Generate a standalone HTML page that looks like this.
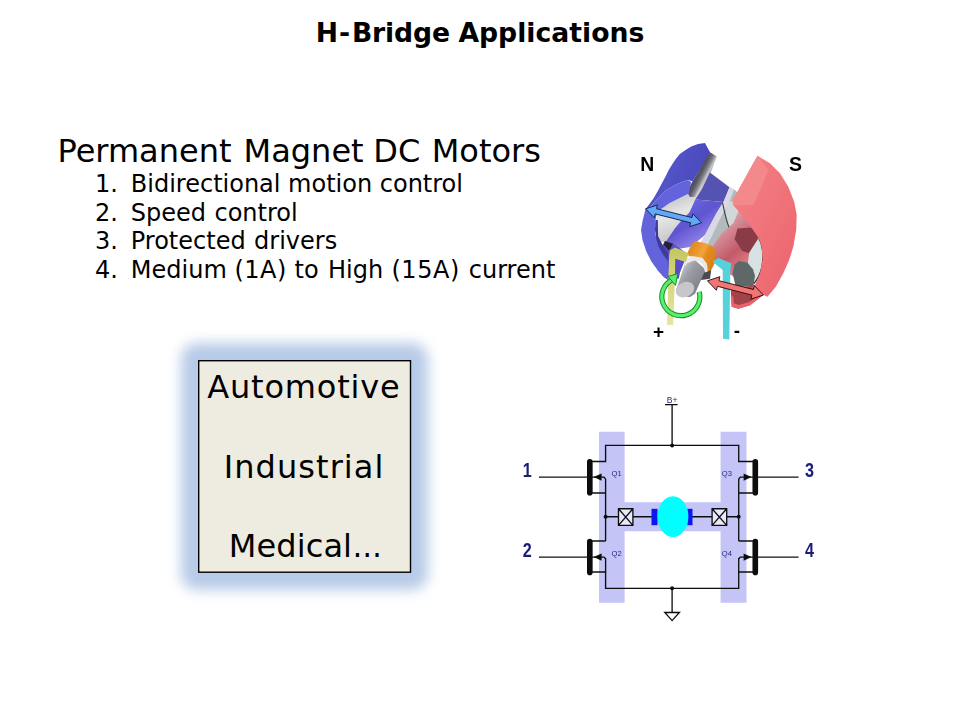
<!DOCTYPE html>
<html><head><meta charset="utf-8"><title>H-Bridge Applications</title>
<style>
html,body{margin:0;padding:0;background:#fff;}
body{width:960px;height:720px;overflow:hidden;}
svg{display:block;}
.v{font-family:"DejaVu Sans","Liberation Sans",sans-serif;fill:#000;}
.a{font-family:"Liberation Sans",sans-serif;font-weight:bold;}
</style></head><body>
<svg width="960" height="720" viewBox="0 0 960 720">
<defs>
<filter id="glow" x="-30%" y="-30%" width="160%" height="160%"><feGaussianBlur stdDeviation="6.3"/></filter>
<filter id="soft" x="-5%" y="-5%" width="110%" height="110%"><feGaussianBlur stdDeviation="0.55"/></filter>
<filter id="soft2" x="-5%" y="-5%" width="110%" height="110%"><feGaussianBlur stdDeviation="0.4"/></filter>
</defs>
<rect width="960" height="720" fill="#fff"/>
<!-- TITLE -->
<text class="v" x="480" y="42" font-size="26.67" font-weight="bold" text-anchor="middle" >H<tspan dx="1">-</tspan><tspan dx="1.8" letter-spacing="-0.12">Bridge</tspan> <tspan dx="-0.9">Applications</tspan></text>
<!-- HEADING + LIST -->
<text class="v" x="57.5" y="161.7" font-size="32">Permanent <tspan dx="1.9">Magnet</tspan> <tspan dx="-0.5">DC</tspan> <tspan dx="1.3">Motors</tspan></text>
<g class="v" font-size="24">
<text x="95" y="191.7">1.</text><text x="130.8" y="191.7">Bidirectional motion control</text>
<text x="95" y="220.5">2.</text><text x="130.8" y="220.5" word-spacing="0.8">Speed control</text>
<text x="95" y="249.3">3.</text><text x="130.8" y="249.3" word-spacing="0.8">Protected drivers</text>
<text x="95" y="278.1">4.</text><text x="130.8" y="278.1">Medium <tspan letter-spacing="0.5">(1A)</tspan> <tspan dx="0.1">to</tspan> <tspan dx="1.7">High</tspan> <tspan dx="0.6" letter-spacing="0.6">(15A)</tspan> <tspan dx="1.0">current</tspan></text>
</g>
<!-- BOX -->
<rect x="181" y="343" width="247" height="247" rx="16" fill="#b7cae7" filter="url(#glow)"/>
<rect x="198.7" y="360.7" width="211.8" height="211.5" fill="#eeece1" stroke="#000" stroke-width="1.4"/>
<g class="v" font-size="32" text-anchor="middle">
<text x="303.9" y="397.5" letter-spacing="0.8">Automotive</text>
<text x="304.1" y="477.5" letter-spacing="1.05">Industrial</text>
<text x="228.8" y="557" text-anchor="start" letter-spacing="0.1">Medical<tspan dx="0.3" textLength="29.5" lengthAdjust="spacingAndGlyphs">…</tspan></text>
</g>
<!-- HBRIDGE -->
<g id="hb" filter="url(#soft2)">
<path d="M599 431.8H624.6V502.2H720.6V431.8H746.5V602.8H720.6V531.2H624.6V602.8H599Z" fill="#c4c4f6"/>
<g fill="none" stroke="#111" stroke-width="1.35">
<!-- B+ -->
<path d="M665 404.6H677.6M672.1 404.6V445.4"/>
<!-- rails -->
<path d="M591 461.5H605.6V445.4H738.7V461.5H753"/>
<path d="M591 572H605.6V588.3H738.7V572H753"/>
<!-- left vertical -->
<path d="M591 493H605.6M605.6 479V541M605.6 541H591"/>
<path d="M605.6 558V572"/>
<!-- right vertical -->
<path d="M753 493H738.7M738.7 479V541M738.7 541H753"/>
<path d="M738.7 558V572"/>
<!-- gate lines -->
<path d="M539 477.1H587M539 557.1H587M758 477.1H798.5M758 557.1H798.5"/>
<!-- source arrows lines -->
<path d="M591 477.1H604L605.6 479M591 557.1H604L605.6 558.7M753 477.1H740.3L738.7 479M753 557.1H740.3L738.7 558.7"/>
<!-- mid wire -->
<path d="M605.6 516.7H618.5M632.9 516.7H652M692 516.7H712.1M726.7 516.7H738.7"/>
<!-- fuses -->
<path d="M618.5 508.7H632.9V525.4H618.5ZM618.5 508.7L632.9 525.4M632.9 508.7L618.5 525.4" fill="#e9e9fb"/>
<path d="M712.1 508.7H726.7V525.4H712.1ZM712.1 508.7L726.7 525.4M726.7 508.7L712.1 525.4" fill="#e9e9fb"/>
<!-- ground -->
<path d="M672.1 588.3V612.5"/>
<path d="M664.8 612.5H679.4L672.1 620.6Z" fill="#fff"/>
</g>
<!-- thick gates -->
<g stroke="#0a0a0a" stroke-width="5.6" stroke-linecap="round" fill="none">
<path d="M589.8 461.8V492.8M589.8 541.6V572.4M755.3 461.8V492.8M755.3 541.6V572.4"/>
</g>
<!-- arrows -->
<g fill="#111">
<path d="M593.6 477.1L601.6 473.4V480.8Z"/><path d="M593.6 557.1L601.6 553.4V560.8Z"/>
<path d="M751.6 477.1L743.6 473.4V480.8Z"/><path d="M751.6 557.1L743.6 553.4V560.8Z"/>
<circle cx="672.1" cy="445.4" r="2"/><circle cx="672.1" cy="588.3" r="2"/>
<circle cx="605.6" cy="516.7" r="2"/><circle cx="738.7" cy="516.7" r="2"/>
</g>
<!-- motor symbol -->
<rect x="651.5" y="508.8" width="6" height="16.4" fill="#0a14f0"/>
<rect x="687.3" y="508.8" width="5.2" height="16.4" fill="#0a14f0"/>
<ellipse cx="673" cy="516.6" rx="15.4" ry="20.4" fill="#00ffff"/>
<!-- labels -->
<g class="a" fill="#1b1b7c" font-size="20.5" text-anchor="middle">
<text x="527.2" y="476.8" textLength="9" lengthAdjust="spacingAndGlyphs">1</text>
<text x="527.2" y="556.8" textLength="9" lengthAdjust="spacingAndGlyphs">2</text>
<text x="809.5" y="476.8" textLength="9" lengthAdjust="spacingAndGlyphs">3</text>
<text x="809.5" y="556.8" textLength="9" lengthAdjust="spacingAndGlyphs">4</text>
</g>
<g font-family="Liberation Sans, sans-serif" fill="#2a2a84" font-size="7.6">
<text x="611.6" y="475.8">Q1</text><text x="611.6" y="555.8">Q2</text>
<text x="721.8" y="475.8">Q3</text><text x="721.8" y="555.6">Q4</text>
<text x="666.8" y="402.6" font-size="8.6">B+</text>
</g>
</g>
<!-- MOTOR -->
<g id="motor" filter="url(#soft)">
<defs>
<linearGradient id="gShadow" gradientUnits="userSpaceOnUse" x1="693" y1="160" x2="712" y2="172"><stop offset="0" stop-color="#3c3c58"/><stop offset="0.55" stop-color="#8a8a98"/><stop offset="1" stop-color="#e4e4ea"/></linearGradient>
<linearGradient id="gBlueOuter" gradientUnits="userSpaceOnUse" x1="650" y1="170" x2="700" y2="190"><stop offset="0" stop-color="#5757cf"/><stop offset="1" stop-color="#4a4abb"/></linearGradient>
<linearGradient id="gRotorBlue" gradientUnits="userSpaceOnUse" x1="690" y1="180" x2="720" y2="225"><stop offset="0" stop-color="#6a66e2"/><stop offset="0.3" stop-color="#6a66e2"/><stop offset="0.65" stop-color="#5e54d0"/><stop offset="1" stop-color="#8a7be6"/></linearGradient>
<linearGradient id="gEnd" gradientUnits="userSpaceOnUse" x1="665" y1="195" x2="680" y2="235"><stop offset="0" stop-color="#bdbdc2"/><stop offset="0.5" stop-color="#e6e6e6"/><stop offset="1" stop-color="#c9c9cc"/></linearGradient>
<linearGradient id="gRed" gradientUnits="userSpaceOnUse" x1="740" y1="200" x2="800" y2="230"><stop offset="0" stop-color="#f27c82"/><stop offset="1" stop-color="#ee6a72"/></linearGradient>
<linearGradient id="gRotorRed" gradientUnits="userSpaceOnUse" x1="725" y1="225" x2="760" y2="265"><stop offset="0" stop-color="#d99aa4"/><stop offset="0.5" stop-color="#c25a68"/><stop offset="1" stop-color="#e89098"/></linearGradient>
<linearGradient id="gShaft" gradientUnits="userSpaceOnUse" x1="680" y1="268" x2="700" y2="282"><stop offset="0" stop-color="#c4c4ca"/><stop offset="0.45" stop-color="#9a9aa2"/><stop offset="1" stop-color="#86868e"/></linearGradient>
<linearGradient id="gOrange" gradientUnits="userSpaceOnUse" x1="690" y1="250" x2="715" y2="262"><stop offset="0" stop-color="#e08a22"/><stop offset="0.45" stop-color="#f2a43a"/><stop offset="0.6" stop-color="#e58c20"/><stop offset="1" stop-color="#d97e18"/></linearGradient>
<linearGradient id="gYellow" gradientUnits="userSpaceOnUse" x1="0" y1="250" x2="0" y2="325"><stop offset="0" stop-color="#c6c662"/><stop offset="0.4" stop-color="#d6d67c"/><stop offset="1" stop-color="#e6e6a0"/></linearGradient>
<linearGradient id="gShadow2" gradientUnits="userSpaceOnUse" x1="698" y1="170" x2="708.5" y2="175.5"><stop offset="0" stop-color="#4a4a68"/><stop offset="0.35" stop-color="#585864"/><stop offset="0.65" stop-color="#86868e"/><stop offset="0.88" stop-color="#c6c6cc"/><stop offset="1" stop-color="#e8e8ec"/></linearGradient>
</defs>
<path d="M704.0 157.0L710.5 152.6L716.7 156.5L714.0 164.0L711.0 172.5L703.0 189.0L696.3 200.8L690.4 212.5L682.0 222.0L676.0 228.3L667.0 241.7L663.3 241.7L657.0 243.0L655.0 222.0L660.0 208.0L668.8 203.5L678.8 198.5L689.0 193.5L693.0 180.0Z" fill="url(#gEnd)" />
<path d="M706.0 156.0L710.5 152.6L716.7 156.5L715.7 160.0L708.9 171.7L702.0 184.3L695.3 197.0L690.0 197.0L687.0 192.0L692.5 181.2L698.8 171.2Z" fill="url(#gShadow2)" />
<path d="M709.9 172.6L729.5 187.2L727.0 194.0L723.5 202.0L695.3 199.5L702.0 189.0Z" fill="#5452b2" />
<path d="M695.3 199.5L723.5 202.0L716.2 213.8L705.0 235.0L697.5 241.2L690.0 247.0L672.0 250.0L666.0 241.5L675.0 228.3L681.0 221.0L689.4 212.5Z" fill="url(#gRotorBlue)" />
<path d="M729.5 187.2L735.0 190.0L745.0 200.0L742.0 215.0L735.0 232.0L722.0 248.0L705.0 245.0L705.0 235.0L716.2 213.8L723.8 201.2Z" fill="#b2baba" />
<path d="M726.0 203.0L735.0 200.0L740.0 212.0L734.0 226.0L729.0 226.0L725.5 215.0Z" fill="#d2d8d8" />
<path d="M729.5 187.2L734.0 189.5L729.0 203.0L721.0 217.0L712.0 236.0L707.0 246.0L700.0 243.0L705.0 235.0L716.2 213.8L723.8 201.2Z" fill="#d8d8e6" />
<path d="M722.5 202.5C725 215 727 226 732.5 235" fill="none" stroke="#3a4040" stroke-width="1.1"/>
<path d="M735.8 195.0L755.0 205.0L756.7 220.0L757.5 233.3L761.7 246.7L758.3 260.0L757.5 273.3L741.7 281.7L728.3 273.3L718.3 263.3L710.0 255.0L712.5 246.7L721.7 233.3L733.3 223.3L738.3 211.7Z" fill="url(#gRotorRed)" />
<path d="M737.5 228.4L752.0 227.5L758.2 236.0L756.5 243.0L749.2 253.2L742.4 251.0L734.6 239.2Z" fill="#8a3a46" />
<path d="M758.9 238.2L762.8 248.9L763.2 258.6L760.8 270.3L756.9 278.0L752.0 284.0L748.0 262.0L749.2 252.8L756.0 242.0Z" fill="#d6e2e2" />
<path d="M758.9 238.2C762.8 246 764 256 761.6 268C760 275 757 280 753.5 284" fill="none" stroke="#333" stroke-width="1.2"/>
<path d="M734.6 264.4L739.0 261.0L747.2 262.5L753.0 269.3L755.0 276.0L753.3 286.7L735.8 286.7L732.5 273.3Z" fill="#5e6868" />
<path d="M730.8 290.0L755.0 285.0L763.3 295.0L750.0 305.3L738.3 308.7L731.7 306.7Z" fill="#a8464e" />
<path d="M757.5 155.8L770.0 163.3L780.0 173.3L788.3 186.7L794.2 201.7L796.7 215.0L796.2 230.0L793.3 246.7L789.2 260.0L783.3 273.3L775.8 286.7L767.5 296.7L763.3 295.0L755.0 285.0L760.0 273.3L762.5 260.0L761.7 246.7L758.8 238.3L752.0 228.5L742.3 215.8L737.5 210.0L733.3 205.3L732.5 200.8Z" fill="url(#gRed)" />
<path d="M757.5 155.8L768.3 170.0L764.2 180.0L753.3 205.0L733.3 205.3L732.5 200.8Z" fill="#f4898c" />
<path d="M755.0 285.0L763.3 295.0L750.0 305.3L738.3 308.7L731.7 306.7L730.8 296.7L740.0 295.0Z" fill="#e8646c" />
<path d="M733.0 290.8L754.2 287.5L760.3 294.2L749.3 302.0L738.7 305.0L733.8 303.3Z" fill="#a2424c" />
<path d="M705.0 143.1L708.1 148.8L710.2 152.5L706.2 157.5L698.8 171.2L692.5 181.2L687.5 180.0L677.5 183.8L666.2 190.0L657.5 198.8L650.0 206.9L645.6 209.0L650.0 203.2L653.9 197.8L657.8 191.1L661.5 183.9L665.4 176.8L668.6 170.2L672.1 164.4L675.4 159.4L679.8 154.1L685.5 149.9L691.2 146.4L698.0 143.9Z" fill="url(#gBlueOuter)" />
<path d="M657.8 236.2L662.5 245.0L665.0 241.2L673.1 243.8L683.8 251.2L686.2 257.5L683.8 263.1L680.0 272.5L678.8 278.5L667.5 279.4L663.8 276.9L657.5 270.0L653.8 257.5L653.8 245.0L655.0 236.2Z" fill="#5a4ec4" />
<path d="M687.5 180.0L691.2 181.9L690.0 187.5L689.0 193.5L678.8 198.5L668.8 203.5L662.5 208.1L658.8 210.0L656.2 216.2L655.6 220.0L655.0 232.5L657.5 245.0L662.5 255.0L667.5 261.2L668.1 270.0L668.1 280.0L663.8 276.9L657.5 270.0L651.2 261.2L646.2 251.2L642.5 240.0L641.0 230.0L642.5 221.2L645.6 208.8L650.0 206.9L657.5 198.8L666.2 190.0L677.5 183.8Z" fill="#6464dc" />
<path d="M655.6 220.0L655.0 230.0L656.2 238.8L659.4 247.5L663.8 255.0L668.1 260.0L668.1 252.8L662.5 245.0L658.1 236.2L657.8 220.0Z" fill="#3a3a9c" />
<path d="M664.8 241.0L673.1 243.8L670.6 248.1L668.8 250.6L663.8 245.0Z" fill="#222230" />
<path d="M698.8 271.2L711.2 270.0L710.0 278.8L701.2 280.0Z" fill="#4a4a50" />
<path d="M684.8 264.0L695.0 260.0L705.6 269.4L695.0 293.8L690.0 296.9L681.2 296.2L676.2 290.0Z" fill="url(#gShaft)" />
<ellipse cx="685" cy="289.6" rx="9.6" ry="7.4" transform="rotate(-25 685 289.6)" fill="#c6c6cb"/>
<path d="M683.8 263.1L687.5 258.1L695.0 256.5L702.5 258.1L706.9 263.8L707.8 271.5L705.0 272.5L703.1 265.0L698.8 261.2L692.5 260.2L687.5 262.5L685.2 266.5Z" fill="#e8e8e8" />
<path d="M695.0 241.2L705.0 243.1L712.5 246.2L715.0 250.0L715.6 261.2L711.2 270.0L707.8 271.5L706.9 263.8L702.5 258.1L695.0 256.5L688.8 256.2L687.5 252.8L691.2 245.0Z" fill="url(#gOrange)" />
<path d="M670.0 250.3L675.0 247.5L688.7 253.3L685.8 262.0L675.3 258.7L675.0 273.3L673.2 325.3L667.0 324.7L668.5 273.3L669.2 255.0Z" fill="url(#gYellow)" />
<path d="M712.5 261.7L718.3 258.0L731.3 263.3L730.3 272.0L729.3 339.5L723.0 338.7L722.7 270.0Z" fill="#56d2da" />
<path d="M645.6 208.8L654.2 217.7L655.2 213.9L690.7 222.8L689.7 226.6L701.5 222.8L692.9 213.8L692.0 217.6L656.5 208.7L657.4 204.9Z" fill="#62a8f4" stroke="#142a5a" stroke-width="1" stroke-linejoin="miter"/>
<path d="M707.5 280.8L716.4 290.3L717.4 286.3L751.9 295.1L750.9 299.1L763.3 295.0L754.4 285.5L753.4 289.5L718.9 280.7L719.9 276.7Z" fill="#f27474" stroke="#3a1414" stroke-width="1" stroke-linejoin="miter"/>
<path d="M699.2 291.8A19 19 0 1 1 672.5 279.6" fill="none" stroke="#168c2c" stroke-width="5.2"/>
<path d="M699.2 291.8A19 19 0 1 1 672.5 279.6" fill="none" stroke="#58f06a" stroke-width="3.2"/>
<path d="M668 276.5L677.8 273.6L675.5 285.4Z" fill="#58f06a" stroke="#168c2c" stroke-width="1"/>
</g><g id="motorlabels" filter="url(#soft2)">
<text x="640.3" y="170.8" class="a" font-size="20.3" fill="#000" textLength="14" lengthAdjust="spacingAndGlyphs">N</text>
<text x="788.9" y="170.5" class="a" font-size="20.3" fill="#000" textLength="13" lengthAdjust="spacingAndGlyphs">S</text>
<text x="658.5" y="338.4" class="a" font-size="19" fill="#000" text-anchor="middle">+</text>
<text x="736.8" y="337.4" class="a" font-size="19" fill="#000" text-anchor="middle">-</text>
</g>
<!-- /MOTOR -->
</svg>
</body></html>
